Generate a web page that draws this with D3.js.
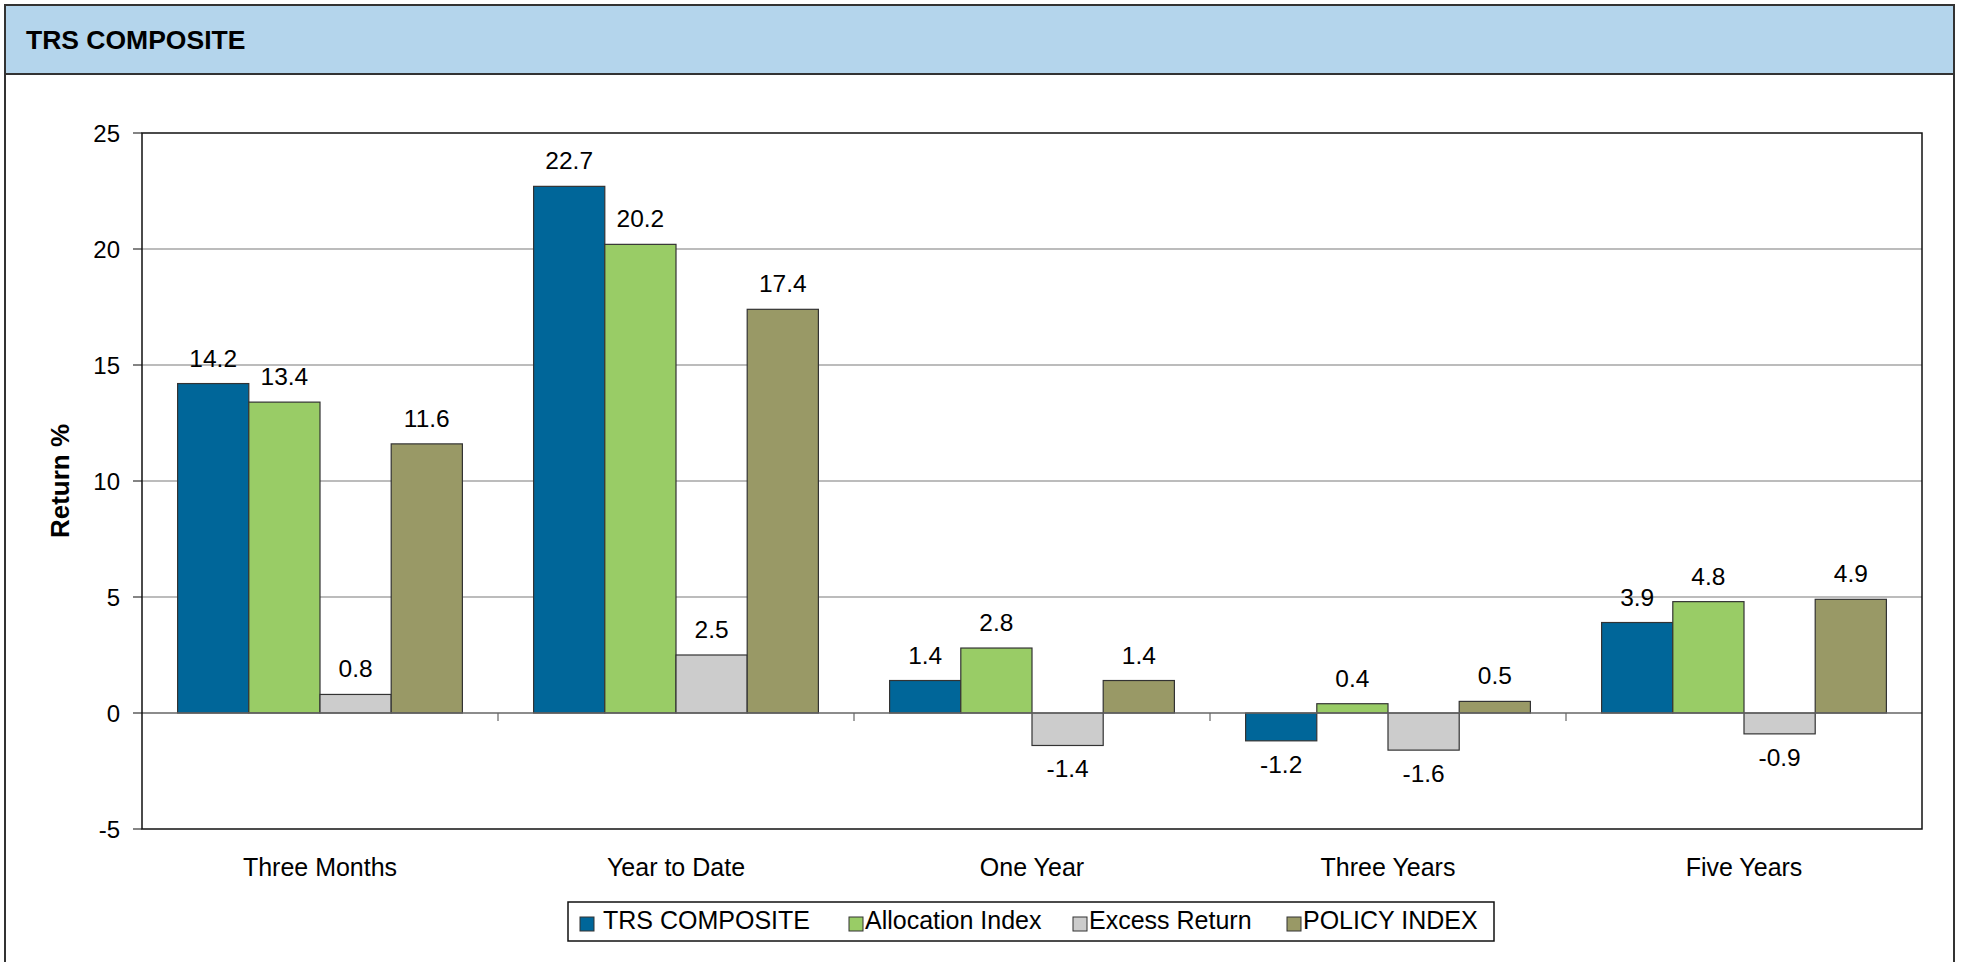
<!DOCTYPE html>
<html>
<head>
<meta charset="utf-8">
<script src="https://cdn.jsdelivr.net/npm/d3@7"></script>
<style>
  body { margin: 0; background: #fff; }
  svg { font-family: "Liberation Sans", Arial, sans-serif; }
</style>
</head>
<body>
<div id="divId"></div>
<script>
var categories = ["Three Months", "Year to Date", "One Year", "Three Years", "Five Years"];
var seriesNames = ["TRS COMPOSITE", "Allocation Index", "Excess Return", "POLICY INDEX"];
var trsComposite = [14.2, 22.7, 1.4, -1.2, 3.9];
var allocationIndex = [13.4, 20.2, 2.8, 0.4, 4.8];
var excessReturn = [0.8, 2.5, -1.4, -1.6, -0.9];
var policyIndex = [11.6, 17.4, 1.4, 0.5, 4.9];
var yTicks = [-5, 0, 5, 10, 15, 20, 25];

var colors = ["#006699", "#99cc66", "#cccccc", "#999966"];
var allSeries = [trsComposite, allocationIndex, excessReturn, policyIndex];

var width = 1963;
var height = 962;

// plot area
var plotLeft = 142, plotRight = 1922, plotTop = 133, plotBottom = 829;

var chart = d3.select("#divId")
    .append("svg")
    .attr("width", width)
    .attr("height", height);

// outer panel + header
chart.append("rect")
    .attr("x", 5).attr("y", 5)
    .attr("width", 1949).attr("height", 970)
    .attr("fill", "#fff")
    .attr("stroke", "#333")
    .attr("stroke-width", 2);
chart.append("rect")
    .attr("x", 5).attr("y", 5)
    .attr("width", 1949).attr("height", 69)
    .attr("fill", "#b4d5ec")
    .attr("stroke", "#333")
    .attr("stroke-width", 2);
chart.append("text")
    .attr("x", 26).attr("y", 49)
    .attr("font-size", 26.5)
    .attr("font-weight", "bold")
    .text("TRS COMPOSITE");

var y = d3.scaleLinear().domain([-5, 25]).range([plotBottom, plotTop]);
var x = d3.scaleBand().domain(categories).range([plotLeft, plotRight]);
var bw = x.bandwidth();
var xs = d3.scaleBand().domain(seriesNames).range([bw * 0.1, bw * 0.9]);

// gridlines
chart.selectAll("line.grid")
    .data(yTicks.filter(function (d) { return d > -5 && d < 25 && d !== 0; }))
    .enter().append("line")
    .attr("class", "grid")
    .attr("x1", plotLeft).attr("x2", plotRight)
    .attr("y1", y).attr("y2", y)
    .attr("stroke", "#a6a6a6")
    .attr("stroke-width", 1.5);

// y axis ticks + labels
chart.selectAll("line.ytick")
    .data(yTicks)
    .enter().append("line")
    .attr("class", "ytick")
    .attr("x1", plotLeft - 9).attr("x2", plotLeft)
    .attr("y1", y).attr("y2", y)
    .attr("stroke", "#333")
    .attr("stroke-width", 1.2);
chart.selectAll("text.yrule")
    .data(yTicks)
    .enter().append("text")
    .attr("class", "yrule")
    .attr("x", 120)
    .attr("y", y)
    .attr("dy", "0.36em")
    .attr("text-anchor", "end")
    .attr("font-size", 24)
    .text(String);

chart.append("text")
    .attr("transform", "translate(69," + ((plotTop + plotBottom) / 2) + ") rotate(-90)")
    .attr("text-anchor", "middle")
    .attr("font-size", 26)
    .attr("font-weight", "bold")
    .text("Return %");

// bars
categories.forEach(function (c, i) {
    var g = chart.append("g").attr("transform", "translate(" + x(c) + ",0)");
    seriesNames.forEach(function (s, j) {
        var v = allSeries[j][i];
        g.append("rect")
            .attr("x", xs(s))
            .attr("y", y(Math.max(0, v)))
            .attr("width", xs.bandwidth())
            .attr("height", Math.abs(y(v) - y(0)))
            .attr("fill", colors[j])
            .attr("stroke", "#333")
            .attr("stroke-width", 1.2);
        g.append("text")
            .attr("x", xs(s) + xs.bandwidth() / 2)
            .attr("y", v >= 0 ? y(v) - 17 : y(v) + 32)
            .attr("text-anchor", "middle")
            .attr("font-size", 24.5)
            .text(v.toFixed(1));
    });
});

// zero line + category ticks
chart.append("line")
    .attr("x1", plotLeft).attr("x2", plotRight)
    .attr("y1", y(0)).attr("y2", y(0))
    .attr("stroke", "#666")
    .attr("stroke-width", 1.5);
chart.selectAll("line.xtick")
    .data(categories.slice(1))
    .enter().append("line")
    .attr("class", "xtick")
    .attr("x1", x).attr("x2", x)
    .attr("y1", y(0)).attr("y2", y(0) + 8)
    .attr("stroke", "#666")
    .attr("stroke-width", 1.2);

// plot border
chart.append("rect")
    .attr("x", plotLeft).attr("y", plotTop)
    .attr("width", plotRight - plotLeft).attr("height", plotBottom - plotTop)
    .attr("fill", "none")
    .attr("stroke", "#111")
    .attr("stroke-width", 1.5);

chart.selectAll("text.cat")
    .data(categories)
    .enter().append("text")
    .attr("class", "cat")
    .attr("x", function (d) { return x(d) + bw / 2; })
    .attr("y", 876)
    .attr("text-anchor", "middle")
    .attr("font-size", 25)
    .text(String);

// legend
var legendX = [580, 849, 1073, 1287];
chart.append("rect")
    .attr("x", 568).attr("y", 902)
    .attr("width", 926).attr("height", 39)
    .attr("fill", "#fff")
    .attr("stroke", "#111")
    .attr("stroke-width", 1.5);
var leg = chart.selectAll("g.leg")
    .data(seriesNames)
    .enter().append("g")
    .attr("class", "leg")
    .attr("transform", function (d, i) { return "translate(" + legendX[i] + ",0)"; });
leg.append("rect")
    .attr("x", 0).attr("y", 917)
    .attr("width", 14).attr("height", 14)
    .attr("fill", function (d, i) { return colors[i]; })
    .attr("stroke", "#333")
    .attr("stroke-width", 1);
leg.append("text")
    .attr("x", function (d, i) { return i === 0 ? 23 : 16; })
    .attr("y", 929)
    .attr("font-size", 25)
    .text(String);
</script>
</body>
</html>
